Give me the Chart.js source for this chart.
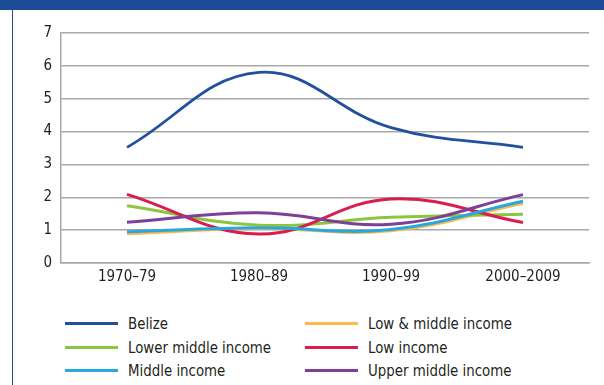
<!DOCTYPE html>
<html>
<head>
<meta charset="utf-8">
<script src="https://cdn.jsdelivr.net/npm/chart.js@4.4.1/dist/chart.umd.min.js"></script>
<style>
  html, body { margin: 0; padding: 0; background: #fff; }
  body { width: 604px; height: 385px; position: relative; overflow: hidden;
         font-family: "DejaVu Sans Condensed", "Liberation Sans Narrow", sans-serif; color: #231f20; }
  .top-bar { position: absolute; left: 0; top: 0; width: 604px; height: 10px; background: #1d4a97; }
  .left-rule { position: absolute; left: 12px; top: 10px; width: 1px; height: 375px; background: #1d4a97; }
  .chart-wrap { position: absolute; left: 0; top: 10px; width: 604px; height: 290px; }
  .legend { position: absolute; left: 65px; top: 312px; display: grid;
            grid-template-columns: 240px 240px; grid-auto-rows: 23.5px; font-size: 16.5px; }
  .legend-item { display: flex; align-items: center; white-space: nowrap; }
  .legend-line { display: inline-block; width: 53px; height: 3px; margin-right: 10px; flex: none; }
  .legend-text { display: inline-block; transform: scaleX(0.9); transform-origin: left center; }
</style>
</head>
<body>
<div class="top-bar"></div>
<div class="left-rule"></div>
<div class="chart-wrap"><canvas id="chart"></canvas></div>
<div class="legend" data-legend></div>

<script>
  // Data
  const categories = ['1970–79', '1980–89', '1990–99', '2000–2009'];
  const belize = [3.52, 5.8, 4.12, 3.52];
  const lowMiddleIncome = [0.89, 1.05, 0.98, 1.82];
  const lowerMiddleIncome = [1.74, 1.15, 1.39, 1.48];
  const lowIncome = [2.09, 0.88, 1.95, 1.23];
  const middleIncome = [0.95, 1.07, 1.02, 1.88];
  const upperMiddleIncome = [1.24, 1.53, 1.18, 2.08];
  const yTicks = [0, 1, 2, 3, 4, 5, 6, 7];

  // Legend order matches the reference (row by row)
  const series = [
    { label: 'Belize', data: belize, color: '#21509e' },
    { label: 'Low & middle income', data: lowMiddleIncome, color: '#fdb94e' },
    { label: 'Lower middle income', data: lowerMiddleIncome, color: '#8cc63f' },
    { label: 'Low income', data: lowIncome, color: '#d81e4f' },
    { label: 'Middle income', data: middleIncome, color: '#29a8e0' },
    { label: 'Upper middle income', data: upperMiddleIncome, color: '#7d3f98' },
  ];

  Chart.defaults.font.family = '"DejaVu Sans Condensed", "Liberation Sans Narrow", sans-serif';
  Chart.defaults.font.size = 15;
  Chart.defaults.color = '#231f20';

  const chart = new Chart(document.getElementById('chart').getContext('2d'), {
    type: 'line',
    data: {
      labels: categories,
      datasets: series.map((s, i) => ({
        label: s.label,
        data: s.data,
        borderColor: s.color,
        backgroundColor: s.color,
        borderWidth: i === 0 ? 2.8 : 3,
        pointRadius: 0,
        tension: 0.4,
        fill: false,
        // later series are painted on top, like the original
        order: series.length - i,
      })),
    },
    options: {
      responsive: true,
      maintainAspectRatio: false,
      animation: false,
      layout: { padding: { left: 0, right: 15, top: 23, bottom: 0 } },
      plugins: { legend: { display: false }, tooltip: { enabled: false } },
      scales: {
        x: {
          offset: true,
          grid: { display: false, drawTicks: false },
          border: { display: true, color: '#a8a8a8', width: 1.5 },
          ticks: { padding: 5, maxRotation: 0 },
          afterFit: (scale) => { scale.height = 37; },
        },
        y: {
          min: 0,
          max: 7,
          afterBuildTicks: (scale) => { scale.ticks = yTicks.map((v) => ({ value: v })); },
          grid: { color: '#a8a8a8', lineWidth: 1.5, drawTicks: false },
          border: { display: true, color: '#a8a8a8', width: 1.5 },
          ticks: { padding: 9 },
          afterFit: (scale) => { scale.width = 61; },
        },
      },
    },
  });

  // HTML legend in two columns
  const legendEl = document.querySelector('[data-legend]');
  chart.data.datasets.forEach((ds) => {
    const item = document.createElement('div');
    item.className = 'legend-item';
    const line = document.createElement('span');
    line.className = 'legend-line';
    line.style.background = ds.borderColor;
    const text = document.createElement('span');
    text.className = 'legend-text';
    text.textContent = ds.label;
    item.appendChild(line);
    item.appendChild(text);
    legendEl.appendChild(item);
  });
</script>
</body>
</html>
